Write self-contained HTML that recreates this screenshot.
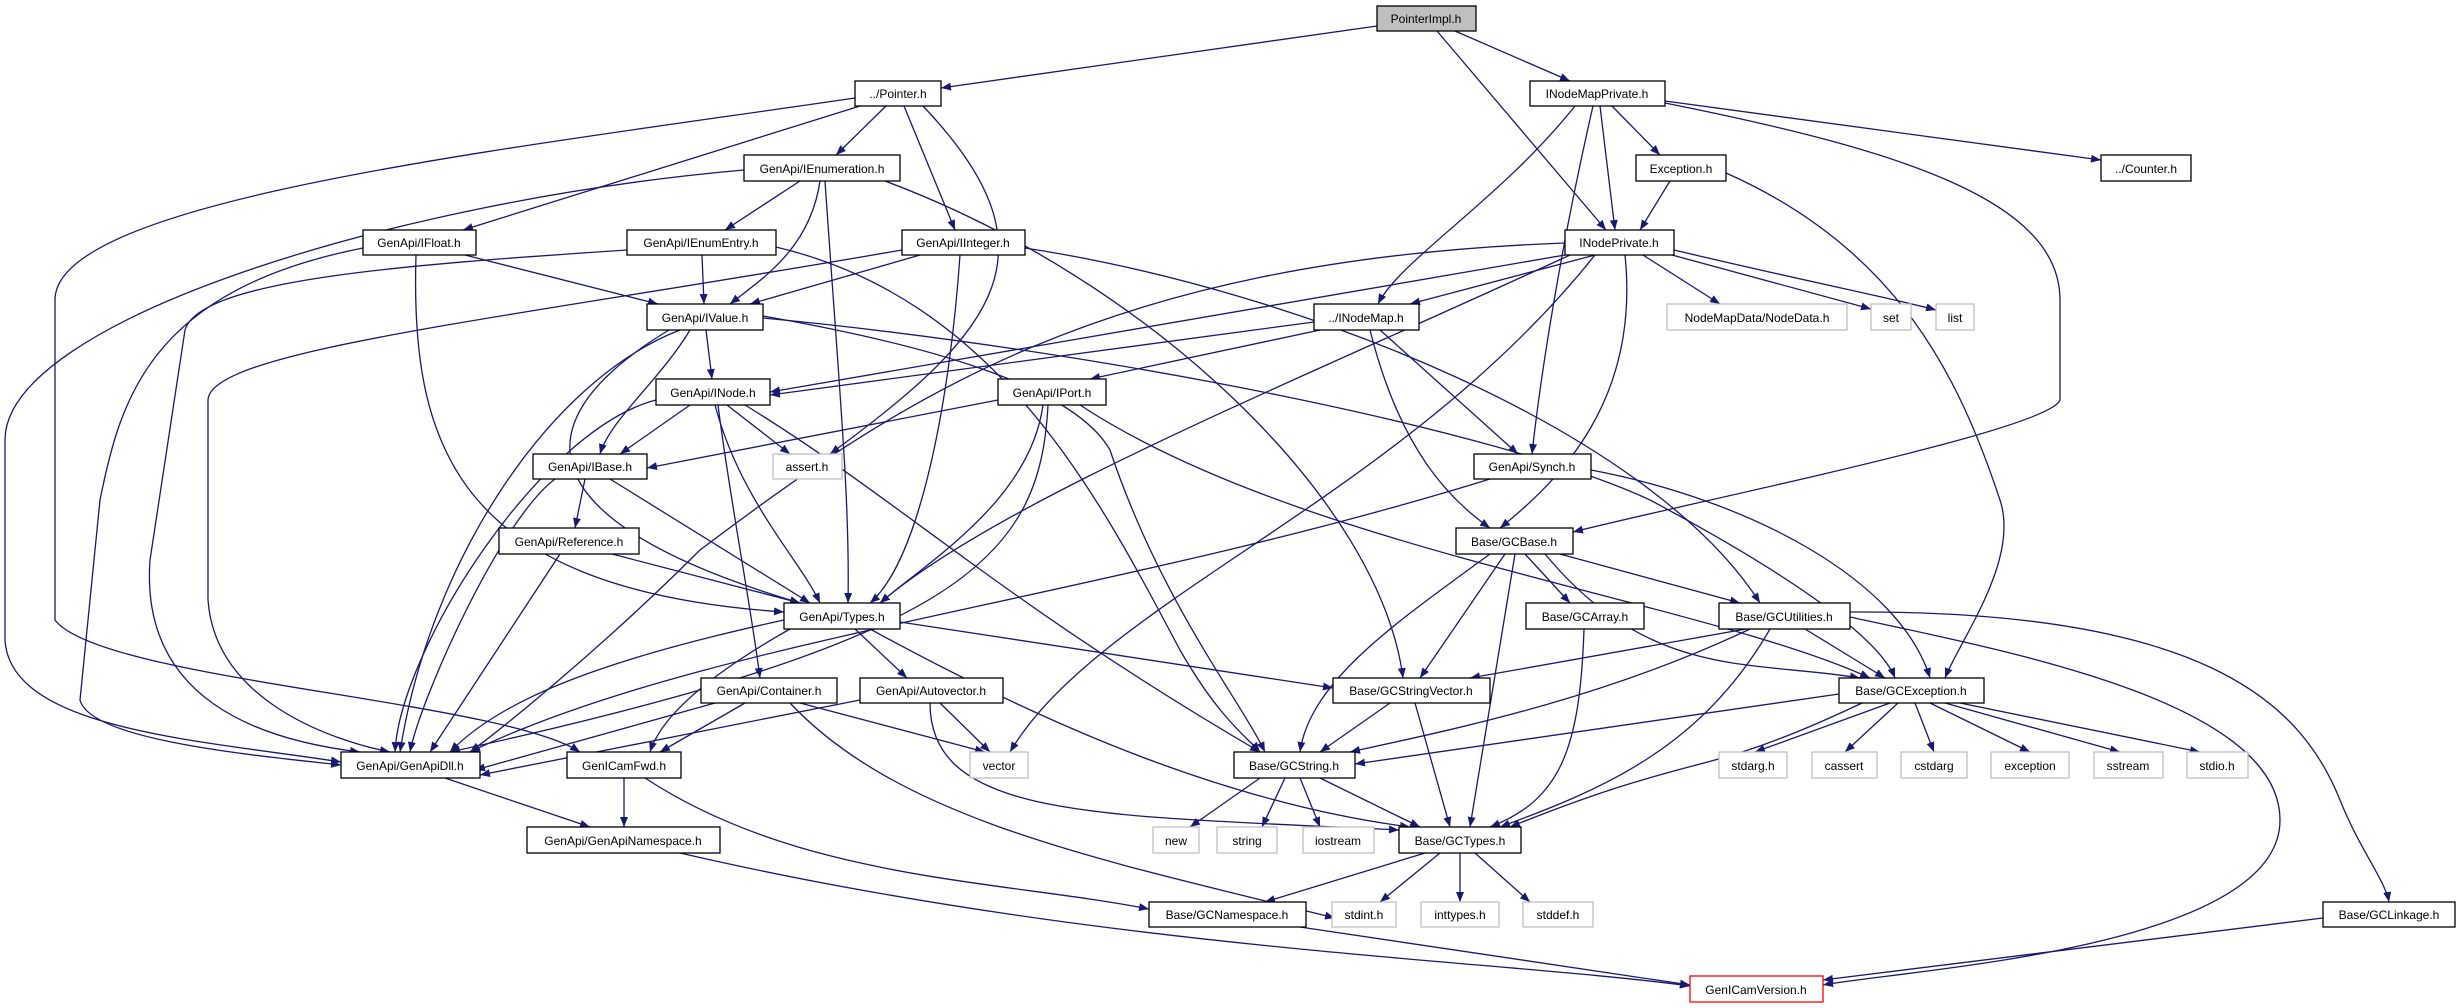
<!DOCTYPE html>
<html><head><meta charset="utf-8"><style>
html,body{margin:0;padding:0;background:#fff;}
svg{display:block;}
text{font-family:"Liberation Sans",sans-serif;font-size:12px;text-anchor:middle;fill:#000;}
.e{fill:none;stroke:#191970;stroke-width:1.3;marker-end:url(#a);}
.n{fill:#fff;stroke:#000;stroke-width:1.3;}
.g{fill:#fff;stroke:#bfbfbf;stroke-width:1.3;}
</style></head><body>
<svg width="2461" height="1008" viewBox="0 0 2461 1008" xmlns="http://www.w3.org/2000/svg">
<defs><marker id="a" viewBox="0 0 10 8" refX="10" refY="4" markerWidth="10" markerHeight="8" markerUnits="userSpaceOnUse" orient="auto"><path d="M0,0 L10,4 L0,8 z" fill="#191970"/></marker></defs>
<g>
<path class="e" d="M1377,26 L941,88"/>
<path class="e" d="M1455,31 L1570,81"/>
<path class="e" d="M1437,31 L1606,230"/>
<path class="e" d="M886,106 L836,155"/>
<path class="e" d="M860,106 L463,230"/>
<path class="e" d="M904,106 L955,230"/>
<path class="e" d="M923,106 C1060,250 1000,330 830,454"/>
<path class="e" d="M855,98 C500,150 55,200 55,300 L55,620 C100,680 500,700 580,752"/>
<path class="e" d="M800,181 L725,230"/>
<path class="e" d="M820,181 C810,250 760,280 730,304"/>
<path class="e" d="M825,181 C840,400 850,500 848,603"/>
<path class="e" d="M885,181 C1150,280 1380,500 1403,678"/>
<path class="e" d="M744,170 C400,200 5,320 5,440 L5,640 C10,730 200,740 341,762"/>
<path class="e" d="M465,255 L658,304"/>
<path class="e" d="M416,255 C410,450 460,590 784,612"/>
<path class="e" d="M363,248 C150,290 120,400 100,500 L80,700 C90,740 250,755 341,765"/>
<path class="e" d="M702,255 L704,304"/>
<path class="e" d="M627,250 C400,265 200,280 185,330 L150,560 C140,700 260,740 360,752"/>
<path class="e" d="M776,247 C1000,300 1100,500 1180,650 C1220,720 1250,740 1260,752"/>
<path class="e" d="M920,255 L750,304"/>
<path class="e" d="M960,255 C950,400 920,560 870,603"/>
<path class="e" d="M902,250 C500,320 210,350 208,400 L208,600 C215,700 330,740 390,752"/>
<path class="e" d="M1025,248 C1300,290 1650,430 1760,603"/>
<path class="e" d="M706,330 L712,379"/>
<path class="e" d="M690,330 C660,380 610,420 600,454"/>
<path class="e" d="M669,330 C520,420 520,520 800,603"/>
<path class="e" d="M680,330 C550,380 430,560 400,752"/>
<path class="e" d="M763,316 C900,340 1070,380 1110,450 C1160,600 1240,700 1265,752"/>
<path class="e" d="M763,318 C1100,350 1500,430 1650,500 C1800,580 1880,640 1895,678"/>
<path class="e" d="M690,405 L620,454"/>
<path class="e" d="M727,405 L790,454"/>
<path class="e" d="M715,405 C740,500 800,560 820,603"/>
<path class="e" d="M718,405 C730,500 750,600 760,678"/>
<path class="e" d="M656,400 C540,430 400,650 395,752"/>
<path class="e" d="M745,405 C900,500 1000,600 1260,752"/>
<path class="e" d="M998,400 L647,468"/>
<path class="e" d="M1043,405 C1030,500 930,560 880,603"/>
<path class="e" d="M1048,405 C1040,560 960,640 450,752"/>
<path class="e" d="M1080,405 C1300,550 1700,600 1870,678"/>
<path class="e" d="M585,479 L575,528"/>
<path class="e" d="M610,479 L810,603"/>
<path class="e" d="M555,479 C500,520 420,700 410,752"/>
<path class="e" d="M612,554 L800,603"/>
<path class="e" d="M560,554 L430,752"/>
<path class="e" d="M784,620 C600,660 500,700 450,752"/>
<path class="e" d="M855,629 L907,678"/>
<path class="e" d="M790,629 C700,680 660,720 650,752"/>
<path class="e" d="M900,622 L1333,688"/>
<path class="e" d="M870,629 C1000,700 1200,800 1410,827"/>
<path class="e" d="M715,703 L475,770"/>
<path class="e" d="M745,703 L660,752"/>
<path class="e" d="M800,703 L985,752"/>
<path class="e" d="M790,703 C900,820 1100,860 1335,918"/>
<path class="e" d="M860,700 L480,775"/>
<path class="e" d="M940,703 L990,752"/>
<path class="e" d="M930,703 C930,820 1100,815 1399,830"/>
<path class="e" d="M445,778 L590,827"/>
<path class="e" d="M624,778 L624,827"/>
<path class="e" d="M645,778 C800,880 1000,880 1149,909"/>
<path class="e" d="M680,853 C1100,950 1500,960 1690,986"/>
<path class="e" d="M1612,106 L1660,155"/>
<path class="e" d="M1600,106 L1615,230"/>
<path class="e" d="M1665,101 L2101,160"/>
<path class="e" d="M1575,106 C1500,200 1400,260 1378,304"/>
<path class="e" d="M1593,106 C1560,250 1540,380 1532,454"/>
<path class="e" d="M1665,103 C1900,150 2060,200 2060,300 L2060,400 C2050,430 1700,500 1573,532"/>
<path class="e" d="M1670,181 L1640,230"/>
<path class="e" d="M1726,173 C1900,250 1960,380 2000,500 C2020,560 1960,640 1945,678"/>
<path class="e" d="M1595,255 L1410,304"/>
<path class="e" d="M1643,255 L1720,304"/>
<path class="e" d="M1672,255 L1871,309"/>
<path class="e" d="M1674,250 C1800,280 1900,300 1936,310"/>
<path class="e" d="M1565,255 L770,392"/>
<path class="e" d="M1570,255 C1300,380 1000,500 880,603"/>
<path class="e" d="M1565,243 C1100,260 900,400 700,550 C600,650 500,730 470,752"/>
<path class="e" d="M1595,255 C1400,500 1100,600 1010,752"/>
<path class="e" d="M1625,255 C1640,400 1560,480 1500,528"/>
<path class="e" d="M1314,322 L770,395"/>
<path class="e" d="M1320,330 L1090,379"/>
<path class="e" d="M1380,330 L1518,454"/>
<path class="e" d="M1370,330 C1400,450 1450,500 1490,528"/>
<path class="e" d="M1490,479 C1100,600 700,640 470,752"/>
<path class="e" d="M1591,470 C1750,500 1900,580 1930,678"/>
<path class="e" d="M1525,554 L1570,603"/>
<path class="e" d="M1560,554 L1740,603"/>
<path class="e" d="M1505,554 L1420,678"/>
<path class="e" d="M1490,554 C1400,620 1310,680 1300,752"/>
<path class="e" d="M1515,554 L1470,827"/>
<path class="e" d="M1545,554 C1650,680 1750,660 1860,678"/>
<path class="e" d="M1584,629 C1580,750 1560,800 1490,827"/>
<path class="e" d="M1746,629 L1470,678"/>
<path class="e" d="M1750,629 C1600,700 1450,730 1350,752"/>
<path class="e" d="M1805,629 L1885,678"/>
<path class="e" d="M1770,629 C1700,750 1600,790 1500,827"/>
<path class="e" d="M1850,612 C2200,610 2300,700 2340,800 C2360,850 2385,880 2389,902"/>
<path class="e" d="M1850,617 C2000,650 2280,700 2280,820 C2280,950 1900,970 1823,985"/>
<path class="e" d="M1390,703 L1320,752"/>
<path class="e" d="M1415,703 L1450,827"/>
<path class="e" d="M1839,694 L1355,764"/>
<path class="e" d="M1862,703 C1700,780 1700,750 1510,827"/>
<path class="e" d="M1890,703 L1755,752"/>
<path class="e" d="M1898,703 L1845,752"/>
<path class="e" d="M1915,703 L1934,752"/>
<path class="e" d="M1930,703 L2030,752"/>
<path class="e" d="M1945,703 L2120,752"/>
<path class="e" d="M1960,703 L2200,752"/>
<path class="e" d="M1260,778 L1190,827"/>
<path class="e" d="M1285,778 L1262,827"/>
<path class="e" d="M1300,778 L1320,827"/>
<path class="e" d="M1320,778 L1420,827"/>
<path class="e" d="M1425,853 L1265,902"/>
<path class="e" d="M1440,853 L1380,902"/>
<path class="e" d="M1460,853 L1460,902"/>
<path class="e" d="M1475,853 L1530,902"/>
<path class="e" d="M1300,927 L1690,985"/>
<path class="e" d="M2323,918 L1823,980"/>
</g>
<g>
<rect x="1377" y="6" width="99" height="25" fill="#bfbfbf" stroke="#000" stroke-width="1.3"/><text x="1426" y="23">PointerImpl.h</text>
<rect class="n" x="855" y="81" width="86" height="25"/><text x="898" y="98">../Pointer.h</text>
<rect class="n" x="744" y="155" width="156" height="26"/><text x="822" y="173">GenApi/IEnumeration.h</text>
<rect class="n" x="363" y="230" width="113" height="25"/><text x="419" y="247">GenApi/IFloat.h</text>
<rect class="n" x="627" y="230" width="149" height="25"/><text x="701" y="247">GenApi/IEnumEntry.h</text>
<rect class="n" x="902" y="230" width="123" height="25"/><text x="963" y="247">GenApi/IInteger.h</text>
<rect class="n" x="647" y="304" width="116" height="26"/><text x="705" y="322">GenApi/IValue.h</text>
<rect class="n" x="656" y="379" width="114" height="26"/><text x="713" y="397">GenApi/INode.h</text>
<rect class="n" x="998" y="379" width="108" height="26"/><text x="1052" y="397">GenApi/IPort.h</text>
<rect class="n" x="533" y="454" width="114" height="25"/><text x="590" y="471">GenApi/IBase.h</text>
<rect class="g" x="773" y="454" width="69" height="25"/><text x="807" y="471">assert.h</text>
<rect class="n" x="499" y="528" width="140" height="26"/><text x="569" y="546">GenApi/Reference.h</text>
<rect class="n" x="784" y="603" width="116" height="26"/><text x="842" y="621">GenApi/Types.h</text>
<rect class="n" x="701" y="678" width="136" height="25"/><text x="769" y="695">GenApi/Container.h</text>
<rect class="n" x="860" y="678" width="143" height="25"/><text x="931" y="695">GenApi/Autovector.h</text>
<rect class="n" x="341" y="752" width="139" height="26"/><text x="410" y="770">GenApi/GenApiDll.h</text>
<rect class="n" x="567" y="752" width="114" height="26"/><text x="624" y="770">GenICamFwd.h</text>
<rect class="g" x="970" y="752" width="58" height="26"/><text x="999" y="770">vector</text>
<rect class="n" x="527" y="827" width="193" height="26"/><text x="623" y="845">GenApi/GenApiNamespace.h</text>
<rect class="g" x="1153" y="827" width="46" height="26"/><text x="1176" y="845">new</text>
<rect class="g" x="1217" y="827" width="60" height="26"/><text x="1247" y="845">string</text>
<rect class="g" x="1303" y="827" width="71" height="26"/><text x="1338" y="845">iostream</text>
<rect class="n" x="1530" y="81" width="135" height="25"/><text x="1597" y="98">INodeMapPrivate.h</text>
<rect class="n" x="1636" y="155" width="90" height="26"/><text x="1681" y="173">Exception.h</text>
<rect class="n" x="2101" y="155" width="90" height="26"/><text x="2146" y="173">../Counter.h</text>
<rect class="n" x="1565" y="230" width="109" height="25"/><text x="1619" y="247">INodePrivate.h</text>
<rect class="n" x="1314" y="304" width="105" height="26"/><text x="1366" y="322">../INodeMap.h</text>
<rect class="g" x="1667" y="304" width="180" height="26"/><text x="1757" y="322">NodeMapData/NodeData.h</text>
<rect class="g" x="1871" y="304" width="40" height="26"/><text x="1891" y="322">set</text>
<rect class="g" x="1936" y="304" width="38" height="26"/><text x="1955" y="322">list</text>
<rect class="n" x="1474" y="454" width="117" height="25"/><text x="1532" y="471">GenApi/Synch.h</text>
<rect class="n" x="1456" y="528" width="117" height="26"/><text x="1514" y="546">Base/GCBase.h</text>
<rect class="n" x="1526" y="603" width="118" height="26"/><text x="1585" y="621">Base/GCArray.h</text>
<rect class="n" x="1719" y="603" width="131" height="26"/><text x="1784" y="621">Base/GCUtilities.h</text>
<rect class="n" x="1333" y="678" width="157" height="25"/><text x="1411" y="695">Base/GCStringVector.h</text>
<rect class="n" x="1839" y="678" width="145" height="25"/><text x="1911" y="695">Base/GCException.h</text>
<rect class="n" x="1234" y="752" width="121" height="26"/><text x="1294" y="770">Base/GCString.h</text>
<rect class="g" x="1719" y="752" width="68" height="26"/><text x="1753" y="770">stdarg.h</text>
<rect class="g" x="1812" y="752" width="65" height="26"/><text x="1844" y="770">cassert</text>
<rect class="g" x="1901" y="752" width="66" height="26"/><text x="1934" y="770">cstdarg</text>
<rect class="g" x="1991" y="752" width="78" height="26"/><text x="2030" y="770">exception</text>
<rect class="g" x="2094" y="752" width="69" height="26"/><text x="2128" y="770">sstream</text>
<rect class="g" x="2187" y="752" width="61" height="26"/><text x="2217" y="770">stdio.h</text>
<rect class="n" x="1399" y="827" width="122" height="26"/><text x="1460" y="845">Base/GCTypes.h</text>
<rect class="n" x="1149" y="902" width="157" height="25"/><text x="1227" y="919">Base/GCNamespace.h</text>
<rect class="g" x="1332" y="902" width="64" height="25"/><text x="1364" y="919">stdint.h</text>
<rect class="g" x="1421" y="902" width="78" height="25"/><text x="1460" y="919">inttypes.h</text>
<rect class="g" x="1523" y="902" width="70" height="25"/><text x="1558" y="919">stddef.h</text>
<rect class="n" x="2323" y="902" width="132" height="25"/><text x="2389" y="919">Base/GCLinkage.h</text>
<rect x="1690" y="976" width="133" height="26" fill="#fff" stroke="#ff0000" stroke-width="1.3"/><text x="1756" y="994">GenICamVersion.h</text>
</g>
</svg>
</body></html>
